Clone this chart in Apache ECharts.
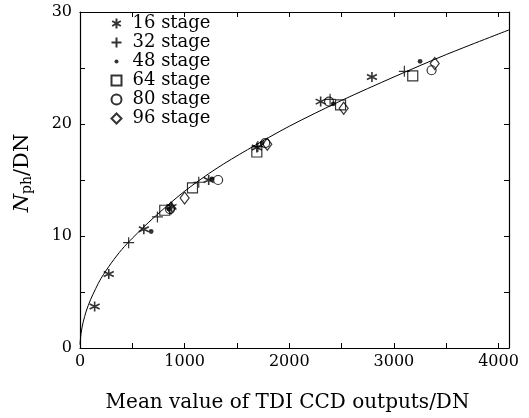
<!DOCTYPE html>
<html><head><meta charset="utf-8">
<script src="https://cdn.jsdelivr.net/npm/echarts@6/dist/echarts.min.js"></script>
<style>html,body{margin:0;padding:0;background:#fff}#c{width:529px;height:418px}</style>
</head><body><div id="c"></div>
<script>
// Data
const s16_x = [140, 275, 610, 875, 1230, 1690, 2300, 2790];
const s16_y = [3.7, 6.6, 10.6, 12.6, 15.0, 17.9, 22.0, 24.2];
const s32_x = [465, 740, 1135, 1700, 2390, 3100];
const s32_y = [9.4, 11.7, 14.8, 18.0, 22.2, 24.7];
const s48_x = [680, 850, 1260, 1740, 2420, 3250];
const s48_y = [10.4, 12.4, 15.1, 18.3, 21.8, 25.6];
const s64_x = [810, 1075, 1690, 2490, 3180];
const s64_y = [12.3, 14.3, 17.5, 21.7, 24.3];
const s80_x = [860, 1320, 1770, 2380, 3360];
const s80_y = [12.4, 15.0, 18.3, 22.0, 24.8];
const s96_x = [870, 1000, 1790, 2520, 3390];
const s96_y = [12.5, 13.4, 18.2, 21.4, 25.4];
const fit_x = [0, 10, 30, 60, 100, 150, 200, 300, 400, 500, 700, 1000, 1300, 1600, 2000, 2500, 3000, 3500, 4100];
const fit_y = [0.3, 1.3, 2.3, 3.3, 4.3, 5.3, 6.2, 7.6, 8.8, 9.8, 11.6, 14.0, 16.0, 17.7, 19.8, 22.1, 24.2, 26.2, 28.4];
const legendNames = ['16 stage', '32 stage', '48 stage', '64 stage', '80 stage', '96 stage'];
const xTickLabels = ['0', '1000', '2000', '3000', '4000'];
const yTickLabels = ['0', '10', '20', '30'];

const zip = (a, b) => a.map((v, i) => [v, b[i]]);
const FONT = 'DejaVu Serif';
const ASTER = 'path://M0,-1L0,1M-0.866,-0.5L0.866,0.5M-0.866,0.5L0.866,-0.5';
const PLUS = 'path://M-1,0L1,0M0,-1L0,1';
// small dot inside a larger (invisible) bounding box
const DOT = 'path://M-5,-5L-5,-5M5,5L5,5M-2,0A2,2 0 1 0 2,0A2,2 0 1 0 -2,0Z';
const stroke = {color: 'none', borderColor: '#000', borderWidth: 1.2};

const chart = echarts.init(document.getElementById('c'), null, {renderer: 'canvas'});
const axisCommon = {
  axisLine: {show: true, onZero: false, lineStyle: {color: '#000', width: 1.2}},
  axisTick: {show: true, inside: true, length: 5, lineStyle: {color: '#000', width: 1}},
  splitLine: {show: false}
};
chart.setOption({
  animation: false,
  backgroundColor: '#fff',
  grid: {left: 80, top: 12, right: 20, bottom: 66, containLabel: false},
  legend: {
    data: legendNames, orient: 'vertical', left: 104, top: 9,
    itemWidth: 10, itemHeight: 10, itemGap: 0,
    textStyle: {fontFamily: FONT, fontSize: 18, color: '#000', lineHeight: 19, padding: [0, 0, 0, 6]}
  },
  xAxis: [
    Object.assign({}, axisCommon, {
      type: 'value', min: 0, max: 4100, interval: 500, position: 'bottom',
      axisLabel: {
        margin: 6, color: '#000', fontFamily: FONT, fontSize: 16, showMaxLabel: false,
        formatter: v => xTickLabels.indexOf(String(v)) >= 0 ? String(v) : ''
      },
      name: 'Mean value of TDI CCD outputs/DN', nameLocation: 'middle', nameGap: 45,
      nameTextStyle: {fontFamily: FONT, fontSize: 20, color: '#000', padding: [0, 14, 0, 0]}
    }),
    Object.assign({}, axisCommon, {
      type: 'value', min: 0, max: 4100, interval: 500, position: 'top',
      axisLabel: {show: false}
    })
  ],
  yAxis: [
    Object.assign({}, axisCommon, {
      type: 'value', min: 0, max: 30, interval: 5, position: 'left',
      axisLabel: {
        margin: 8, color: '#000', fontFamily: FONT, fontSize: 16,
        formatter: v => yTickLabels.indexOf(String(v)) >= 0 ? String(v) : ''
      }
    }),
    Object.assign({}, axisCommon, {
      type: 'value', min: 0, max: 30, interval: 5, position: 'right',
      axisLabel: {show: false}
    })
  ],
  graphic: [{
    type: 'text', x: 23, y: 173, rotation: Math.PI / 2,
    style: {
      text: '{n|N}{s|ph}{d|/DN}', align: 'center', verticalAlign: 'middle',
      rich: {
        n: {fontFamily: FONT, fontSize: 21, fontStyle: 'italic', fill: '#000', lineHeight: 26},
        s: {fontFamily: FONT, fontSize: 14, fill: '#000', padding: [9, 0, 0, 0]},
        d: {fontFamily: FONT, fontSize: 21, fill: '#000', lineHeight: 26}
      }
    }
  }],
  series: [
    {type: 'line', name: 'fit', data: zip(fit_x, fit_y), smooth: 0.3, showSymbol: false, symbol: 'none',
     lineStyle: {color: '#000', width: 1}, z: 1},
    {type: 'scatter', name: legendNames[0], data: zip(s16_x, s16_y), symbol: ASTER, symbolSize: 10, itemStyle: {color: 'none', borderColor: '#000', borderWidth: 1.6}},
    {type: 'scatter', name: legendNames[1], data: zip(s32_x, s32_y), symbol: PLUS, symbolSize: 11, itemStyle: stroke},
    {type: 'scatter', name: legendNames[2], data: zip(s48_x, s48_y), symbol: DOT, symbolSize: 12, itemStyle: {color: '#000', borderWidth: 0}},
    {type: 'scatter', name: legendNames[3], data: zip(s64_x, s64_y), symbol: 'rect', symbolSize: 10, itemStyle: stroke},
    {type: 'scatter', name: legendNames[4], data: zip(s80_x, s80_y), symbol: 'circle', symbolSize: 9, itemStyle: stroke},
    {type: 'scatter', name: legendNames[5], data: zip(s96_x, s96_y), symbol: 'diamond', symbolSize: [9, 12], itemStyle: stroke}
  ]
});
</script></body></html>
